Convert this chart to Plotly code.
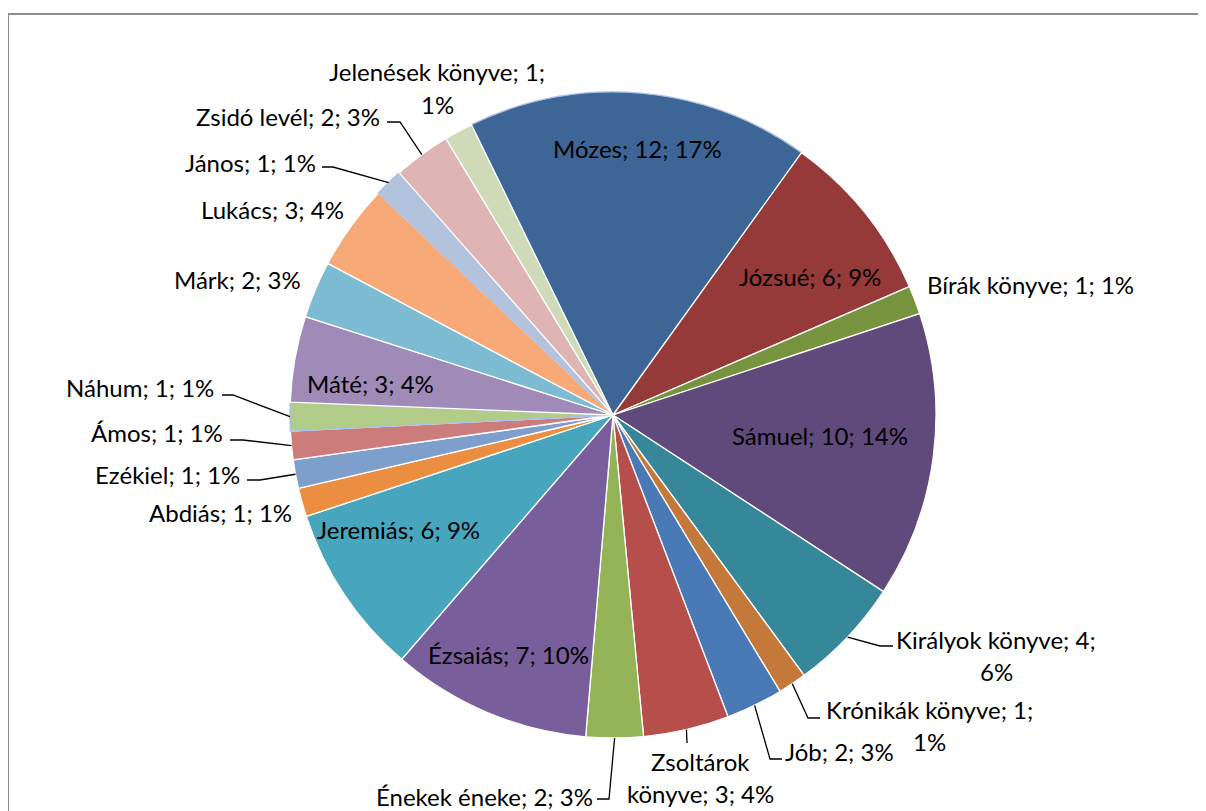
import math
import plotly.graph_objects as go

# ---- data ----
books = ["Mózes", "Józsué", "Bírák könyve", "Sámuel", "Királyok könyve", "Krónikák könyve",
         "Jób", "Zsoltárok könyve", "Énekek éneke", "Ézsaiás", "Jeremiás", "Abdiás",
         "Ezékiel", "Ámos", "Náhum", "Máté", "Márk", "Lukács", "János", "Zsidó levél",
         "Jelenések könyve"]
counts = [12, 6, 1, 10, 4, 1, 2, 3, 2, 7, 6, 1, 1, 1, 1, 3, 2, 3, 1, 2, 1]

# ---- styles ----
colors = ["#3D6596", "#953A38", "#77933D", "#5F4A7B", "#37879A", "#C4793A",
          "#4A7AB5", "#B64E4B", "#93B356", "#785E9B", "#47A5BE", "#EB8E42",
          "#7E9ECB", "#CC7C7A", "#B1CB88", "#A08AB7", "#7CBBD1", "#F7AA77",
          "#B3C3DE", "#DEB5B4", "#CFDBB8"]
outline = ["#A9C0E8" if b in ("Mózes", "János", "Náhum") else "#FFFFFF" for b in books]

W, H = 1206, 811
OFF = 8          # page body margin of the html page
CX, CY, R = 613, 415, 323
ROT = -26
FONT = "Lato"
FS = 24

# label layout: (centre x, centre y of first line) in pixels
label_pos = {
    "Mózes": (637, 149), "Józsué": (810, 276), "Bírák könyve": (1030, 284),
    "Sámuel": (820, 436), "Királyok könyve": (996, 639), "Krónikák könyve": (929, 709),
    "Jób": (839, 751), "Zsoltárok könyve": (700, 761), "Énekek éneke": (485, 796),
    "Ézsaiás": (508, 654), "Jeremiás": (398, 529), "Abdiás": (220, 513),
    "Ezékiel": (167, 474), "Ámos": (157, 433), "Náhum": (140, 387),
    "Máté": (370, 383), "Márk": (237, 279), "Lukács": (272, 209),
    "János": (250, 162), "Zsidó levél": (288, 116), "Jelenések könyve": (437, 72),
}
LINE_GAP = 32
wrap = {"Királyok könyve": "after_count", "Krónikák könyve": "after_count",
        "Jelenések könyve": "after_count", "Zsoltárok könyve": "after_name_word"}
# leader lines: elbow and end (pixels)
leaders = {
    "Zsidó levél": ((400, 122), (387, 122)),
    "János": ((333, 167), (322, 167)),
    "Náhum": ((233, 395), (222, 395)),
    "Ámos": ((243, 440), (230, 440)),
    "Ezékiel": ((260, 480), (247, 480)),
    "Királyok könyve": ((880, 646), (893, 646)),
    "Krónikák könyve": ((808, 718), (820, 718)),
    "Jób": ((770, 759), (782, 759)),
    "Zsoltárok könyve": ((687, 743), (687, 743)),
    "Énekek éneke": ((609, 799), (597, 799)),
}


def px(x):
    return (x - OFF) / W


def py(y):
    return 1 - (y - OFF) / H


fig = go.Figure(go.Pie(
    labels=books, values=counts, sort=False, direction="clockwise", rotation=ROT,
    marker=dict(colors=colors, line=dict(color=outline, width=1.3)),
    textinfo="none", hoverinfo="label+value+percent", showlegend=False,
    domain=dict(x=[px(CX - R), px(CX + R)], y=[py(CY + R), py(CY - R)]),
))

total = sum(counts)
annotations = []
shapes = []
cum = 0
for b, v in zip(books, counts):
    pct = round(v / total * 100)
    mid = math.radians(ROT + (cum + v / 2) / total * 360)
    cum += v
    if wrap.get(b) == "after_count":
        lines = [f"{b}; {v};", f"{pct}%"]
    elif wrap.get(b) == "after_name_word":
        first, rest = b.split(" ", 1)
        lines = [first, f"{rest}; {v}; {pct}%"]
    else:
        lines = [f"{b}; {v}; {pct}%"]
    lx, ly = label_pos[b]
    for k, t in enumerate(lines):
        annotations.append(dict(
            x=px(lx), y=py(ly + k * LINE_GAP), xref="paper", yref="paper",
            text=t, showarrow=False, xanchor="center", yanchor="middle",
            font=dict(family=FONT, size=FS, color="#000000"),
        ))
    if b in leaders:
        sx = CX + R * math.sin(mid)
        sy = CY - R * math.cos(mid)
        (ex1, ey1), (ex2, ey2) = leaders[b]
        path = f"M {px(sx)} {py(sy)} L {px(ex1)} {py(ey1)} L {px(ex2)} {py(ey2)}"
        shapes.append(dict(type="path", path=path, xref="paper", yref="paper",
                           line=dict(color="#000000", width=1.3)))

shapes.append(dict(type="rect", xref="paper", yref="paper",
                   x0=px(8), y0=py(14), x1=1.02, y1=-0.02,
                   line=dict(color="#8C8C8C", width=2), fillcolor="rgba(0,0,0,0)"))

fig.update_layout(
    width=W, height=H, margin=dict(l=0, r=0, t=0, b=0),
    paper_bgcolor="#FFFFFF", plot_bgcolor="#FFFFFF",
    annotations=annotations, shapes=shapes,
    font=dict(family=FONT),
)

fig.write_html("out.html")
